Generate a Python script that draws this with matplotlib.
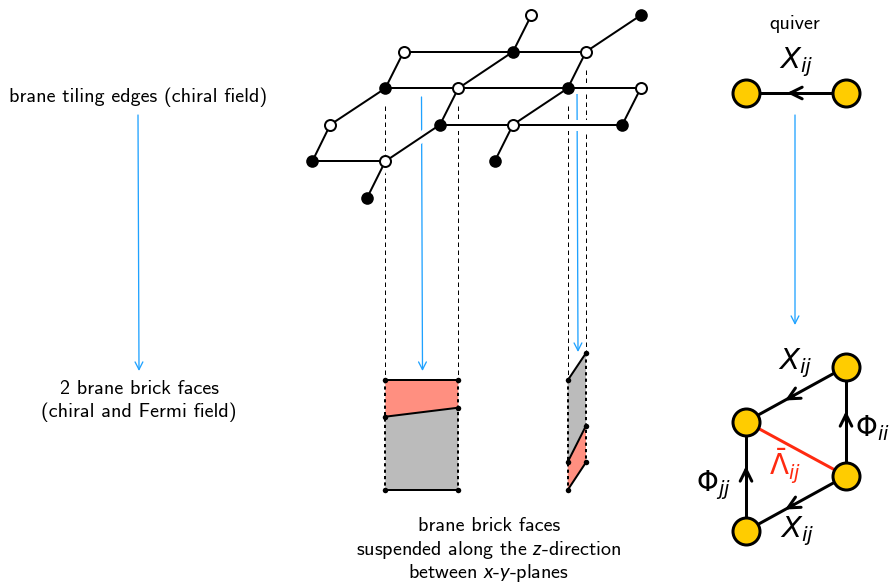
import matplotlib
matplotlib.use("Agg")
import matplotlib.pyplot as plt
from matplotlib.patches import Polygon

plt.rcParams['mathtext.fontset'] = 'custom'
plt.rcParams['mathtext.it'] = 'DejaVu Sans:italic'
plt.rcParams['mathtext.sf'] = 'Lato:italic'
plt.rcParams['mathtext.rm'] = 'DejaVu Sans'
plt.rcParams['mathtext.fallback'] = 'stixsans'
TEXT_FONT = ['cmss10', 'DejaVu Sans']

BLACK = '#000000'
BLUE = '#1fa2ff'
GOLD = '#ffcc00'
SALMON = '#ff8f80'
GREY = '#bbbbbb'
RED = '#ff2a10'

# brane tiling nodes: (x, y)
black_nodes = [(640.7, 15.3), (513, 51.7), (385.3, 88.3), (567.7, 88.3), (440, 124.7),
               (622.3, 124.7), (312.3, 161.3), (494.7, 161.3), (367, 198)]
white_nodes = [(531.3, 15.3), (403.7, 51.7), (586, 51.7), (458.3, 88.3), (640.7, 88.3),
               (330.3, 124.7), (513, 124.7), (385.3, 161.3)]
# edges: (black index, white index)
tiling_edges = [(1, 0), (1, 1), (1, 2), (1, 3), (0, 2), (3, 2), (2, 1), (2, 3), (3, 3), (3, 4),
                (2, 5), (6, 5), (4, 3), (4, 6), (5, 6), (3, 6), (5, 4), (7, 6),
                (4, 7), (6, 7), (8, 7)]

# dashed projection lines: (x, y start, y end)
dashed_lines = [(385.3, 106, 380), (458.3, 106, 380), (567.7, 106, 380), (586, 70, 353)]

# blue arrows: (x0, y0, x1, y1)
blue_arrows = [(138, 115, 139, 371), (421.5, 97, 422.5, 371), (577, 88, 578, 352), (795, 115, 795, 325)]

# brick faces
grey_faces = [[(385.3, 416.7), (458.3, 407.7), (458.3, 490), (385.3, 490)],
              [(567.7, 380.3), (586, 353), (586, 425.7), (567.7, 462)]]
red_faces = [[(385.3, 380), (458.3, 380), (458.3, 407.7), (385.3, 416.7)],
             [(567.7, 462), (586, 425.7), (586, 462.3), (567.7, 490)]]
brick_edges = [[(385.3, 380), (458.3, 380)], [(385.3, 416.7), (458.3, 407.7)], [(385.3, 490), (458.3, 490)],
               [(567.7, 380.3), (586, 353)], [(567.7, 462), (586, 425.7)], [(567.7, 490), (586, 462.3)]]
brick_dotted = [(385.3, 380, 490), (458.3, 380, 490), (567.7, 380.3, 490), (586, 353, 462.3)]

# quivers
quiver_nodes = [(746, 93), (846, 93), (846, 366.7), (746, 421.7), (846, 476), (746, 531)]
quiver_arrows = [((846, 93), (746, 93), (787, 93)),
                 ((846, 366.7), (746, 421.7), (785, 400.5)),
                 ((846, 476), (746, 531), (785, 509.5)),
                 ((846, 476), (846, 366.7), (846, 411)),
                 ((746, 531), (746, 421.7), (746, 466))]
fermi_edge = [(746, 421.7), (846, 476)]

# (x, y, text, size, colour)
labels = [(138, 97.5, 'brane tiling edges (chiral field)', 14.5, 'black'),
          (139, 389.5, '2 brane brick faces', 14.5, 'black'),
          (139, 412.5, '(chiral and Fermi field)', 14.5, 'black'),
          (489, 526, 'brane brick faces', 14.5, 'black'),
          (489, 550, r'suspended along the $\mathsf{z}$-direction', 14.5, 'black'),
          (489, 573, r'between $\mathsf{x}$-$\mathsf{y}$-planes', 14.5, 'black'),
          (795, 24, 'quiver', 14.5, 'black')]
math_labels = [(796, 62, r'$X_{ij}$', 21, 'black'),
               (795, 363, r'$X_{ij}$', 21, 'black'),
               (797, 531, r'$X_{ij}$', 21, 'black'),
               (713, 485, r'$\mathrm{\Phi}_{jj}$', 20, 'black'),
               (872, 428, r'$\mathrm{\Phi}_{ii}$', 20, 'black'),
               (785, 466, r'$\bar{\mathrm{\Lambda}}_{ij}$', 20, RED)]

PX = 0.72
fig = plt.figure(figsize=(8.9, 5.83), dpi=100)
ax = fig.add_axes([0, 0, 1, 1])
ax.set_xlim(0, 890)
ax.set_ylim(583, 0)
ax.axis('off')

for x, y0, y1 in dashed_lines:
    ax.plot([x, x], [y0, y1], color=BLACK, lw=1.0 * PX, dashes=(4.5, 3.5), zorder=1)
for x0, y0, x1, y1 in blue_arrows:
    ax.annotate('', xy=(x1, y1), xytext=(x0, y0), zorder=1.5,
                arrowprops=dict(arrowstyle='->,head_length=0.55,head_width=0.28', color=BLUE,
                                lw=1.3 * PX, shrinkA=0, shrinkB=0))

for b, w in tiling_edges:
    xs = [black_nodes[b][0], white_nodes[w][0]]
    ys = [black_nodes[b][1], white_nodes[w][1]]
    ax.plot(xs, ys, color='white', lw=11 * PX, solid_capstyle='butt', zorder=2)
for b, w in tiling_edges:
    xs = [black_nodes[b][0], white_nodes[w][0]]
    ys = [black_nodes[b][1], white_nodes[w][1]]
    ax.plot(xs, ys, color=BLACK, lw=2.0 * PX, zorder=3)
ax.plot(*zip(*black_nodes), 'o', ms=12.6 * PX, mfc=BLACK, mec=BLACK, mew=0, ls='none', zorder=4)
ax.plot(*zip(*white_nodes), 'o', ms=11 * PX, mfc='white', mec=BLACK, mew=2.0 * PX, ls='none', zorder=4)

for face in grey_faces:
    ax.add_patch(Polygon(face, closed=True, fc=GREY, ec='none', zorder=1.6))
for face in red_faces:
    ax.add_patch(Polygon(face, closed=True, fc=SALMON, ec='none', zorder=1.6))
for x, y0, y1 in brick_dotted:
    ax.plot([x, x], [y0, y1], color=BLACK, lw=2.0 * PX, dashes=(1.6, 1.6), zorder=1.8)
for edge in brick_edges:
    ax.plot(*zip(*edge), color=BLACK, lw=2.0 * PX, zorder=2)
    ax.plot(*zip(*edge), 'o', ms=5.5 * PX, color=BLACK, mew=0, ls='none', zorder=2.1)

ax.plot(*zip(*fermi_edge), color=RED, lw=3 * PX, zorder=5)
for start, end, tip in quiver_arrows:
    ax.plot([start[0], end[0]], [start[1], end[1]], color=BLACK, lw=3 * PX, zorder=5)
    back = (tip[0] + 0.15 * (start[0] - tip[0]), tip[1] + 0.15 * (start[1] - tip[1]))
    ax.annotate('', xy=tip, xytext=back, zorder=5,
                arrowprops=dict(arrowstyle='->,head_length=0.85,head_width=0.42', color=BLACK,
                                lw=3 * PX, shrinkA=0, shrinkB=0))
ax.plot(*zip(*quiver_nodes), 'o', ms=27 * PX, mfc=GOLD, mec=BLACK, mew=3 * PX, ls='none', zorder=6)

for x, y, s, size, c in labels:
    ax.text(x, y, s, fontsize=size, color=c, ha='center', va='center', family=TEXT_FONT)
for x, y, s, size, c in math_labels:
    ax.text(x, y, s, fontsize=size, color=c, ha='center', va='center', clip_on=False)

fig.savefig('out.png', dpi=100)
